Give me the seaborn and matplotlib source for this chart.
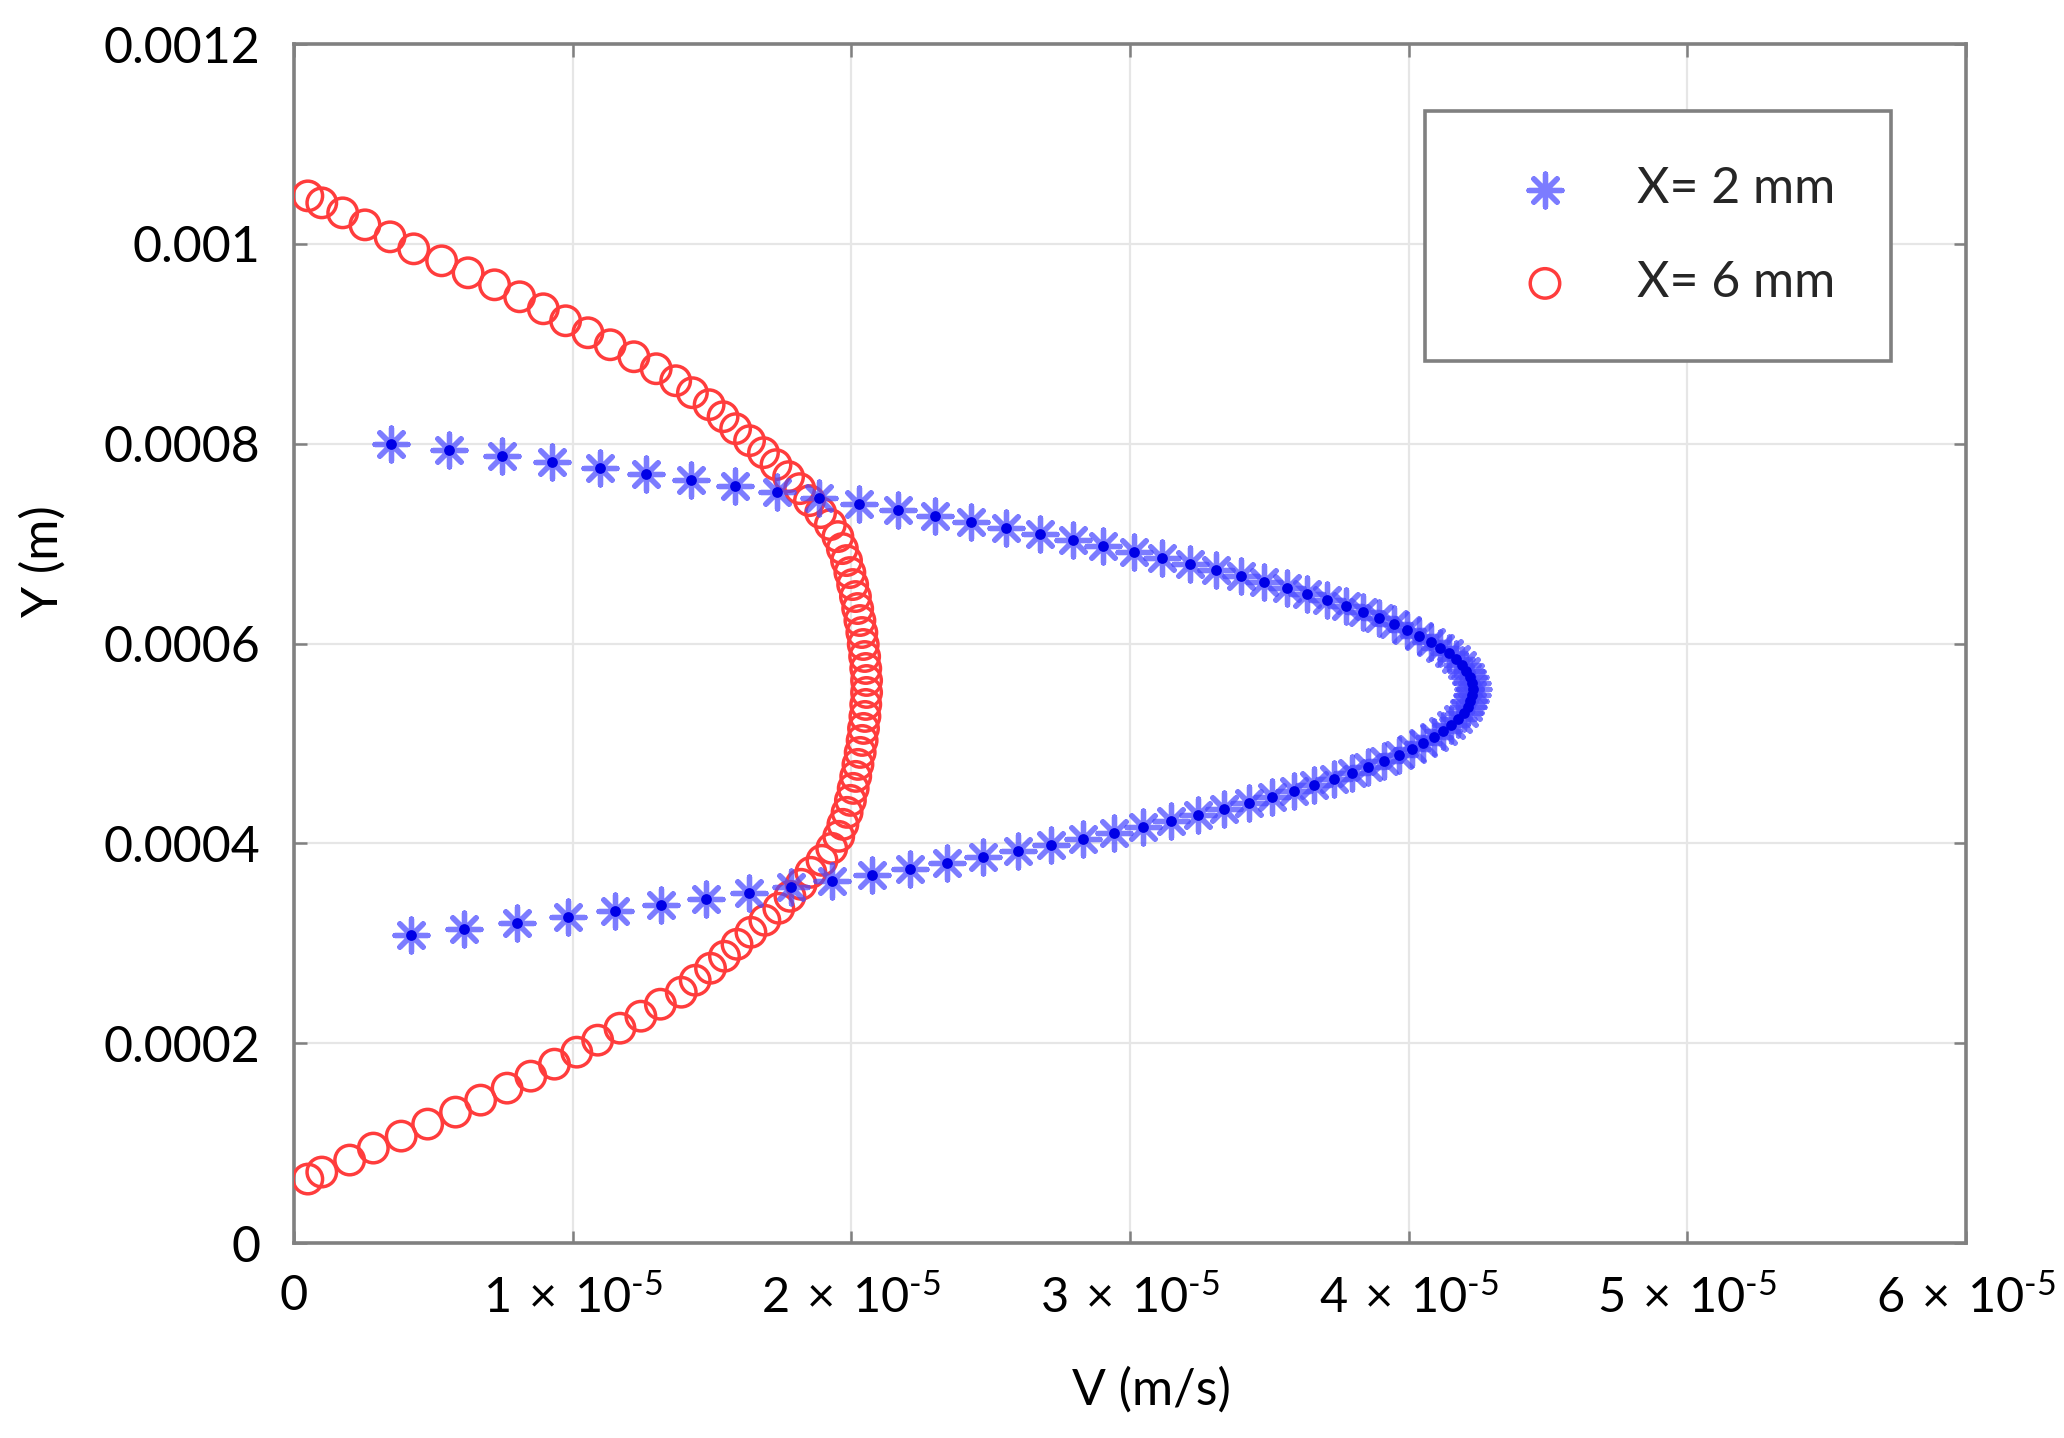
import matplotlib
matplotlib.use("Agg")
import matplotlib.pyplot as plt
import pandas as pd
import seaborn as sns


# X = 2 mm : wall-normal position (micrometres) and velocity (x 1e-5 m/s)
y_2mm_um = [
    308, 314, 320, 326, 332, 338, 344, 350, 356, 362, 368, 374, 380, 386,
    392, 398, 404, 410, 416, 422, 428, 434, 440, 446, 452, 458, 464, 470,
    476, 482, 488, 494, 500, 506, 512, 518, 524, 530, 536, 542, 548, 554,
    560, 566, 572, 578, 584, 590, 596, 602, 608, 614, 620, 626, 632, 638,
    644, 650, 656, 662, 668, 674, 680, 686, 692, 698, 704, 710, 716, 722,
    728, 734, 740, 746, 752, 758, 764, 770, 776, 782, 788, 794, 800,
]
v_2mm = [
    0.420, 0.610, 0.800, 0.984, 1.153, 1.318, 1.478, 1.634, 1.785, 1.932,
    2.074, 2.211, 2.344, 2.473, 2.597, 2.716, 2.831, 2.942, 3.048, 3.149,
    3.246, 3.338, 3.426, 3.509, 3.587, 3.661, 3.731, 3.796, 3.856, 3.912,
    3.964, 4.011, 4.053, 4.091, 4.124, 4.153, 4.177, 4.197, 4.212, 4.222,
    4.228, 4.230, 4.227, 4.219, 4.207, 4.191, 4.169, 4.144, 4.114, 4.079,
    4.039, 3.996, 3.947, 3.894, 3.837, 3.775, 3.708, 3.637, 3.562, 3.481,
    3.397, 3.308, 3.214, 3.116, 3.013, 2.905, 2.794, 2.677, 2.556, 2.431,
    2.301, 2.166, 2.027, 1.883, 1.735, 1.582, 1.425, 1.263, 1.097, 0.926,
    0.745, 0.555, 0.350,
]

# X = 6 mm
y_6mm_um = [
    64, 71, 83, 95, 107, 119, 131, 143, 155, 167, 179, 191, 203, 215,
    227, 239, 251, 263, 275, 287, 299, 311, 323, 335, 347, 359, 371, 383,
    395, 407, 419, 431, 443, 455, 467, 479, 491, 503, 515, 527, 539, 551,
    563, 575, 587, 599, 611, 623, 635, 647, 659, 671, 683, 695, 707, 719,
    731, 743, 755, 767, 779, 791, 803, 815, 827, 839, 851, 863, 875, 887,
    899, 911, 923, 935, 947, 959, 971, 983, 995, 1007, 1019, 1031, 1041, 1048,
]
v_6mm = [
    0.05, 0.10, 0.20, 0.285, 0.385, 0.48, 0.58, 0.67, 0.765, 0.85,
    0.935, 1.015, 1.09, 1.17, 1.245, 1.315, 1.39, 1.44, 1.495, 1.545,
    1.59, 1.64, 1.69, 1.74, 1.78, 1.82, 1.855, 1.895, 1.93, 1.955,
    1.97, 1.985, 1.997, 2.007, 2.016, 2.024, 2.032, 2.039, 2.044, 2.049,
    2.052, 2.055, 2.055, 2.052, 2.048, 2.043, 2.038, 2.031, 2.023, 2.015,
    2.005, 1.995, 1.983, 1.968, 1.952, 1.925, 1.89, 1.85, 1.815, 1.775,
    1.73, 1.685, 1.635, 1.585, 1.54, 1.49, 1.43, 1.37, 1.30, 1.22,
    1.135, 1.055, 0.975, 0.895, 0.81, 0.72, 0.625, 0.53, 0.43, 0.345,
    0.255, 0.175, 0.10, 0.05,
]

series_labels = ["X= 2 mm", "X= 6 mm"]

x_ticks = [0, 1e-5, 2e-5, 3e-5, 4e-5, 5e-5, 6e-5]
x_tick_labels = [
    "0",
    r"$1\,\times\,10^{\text{-5}}$",
    r"$2\,\times\,10^{\text{-5}}$",
    r"$3\,\times\,10^{\text{-5}}$",
    r"$4\,\times\,10^{\text{-5}}$",
    r"$5\,\times\,10^{\text{-5}}$",
    r"$6\,\times\,10^{\text{-5}}$",
]
y_ticks = [0, 0.0002, 0.0004, 0.0006, 0.0008, 0.001, 0.0012]
y_tick_labels = ["0", "0.0002", "0.0004", "0.0006", "0.0008", "0.001", "0.0012"]

df_2mm = pd.DataFrame({
    "V": [v * 1e-5 for v in v_2mm],
    "Y": [y * 1e-6 for y in y_2mm_um],
})
df_6mm = pd.DataFrame({
    "V": [v * 1e-5 for v in v_6mm],
    "Y": [y * 1e-6 for y in y_6mm_um],
})

sns.set_theme(style="ticks")
plt.rcParams["font.family"] = ["Lato", "DejaVu Sans"]
plt.rcParams["mathtext.fontset"] = "custom"
plt.rcParams["mathtext.rm"] = "Lato"
plt.rcParams["mathtext.default"] = "rm"
plt.rcParams["mathtext.fallback"] = "stixsans"

fig = plt.figure(figsize=(20.64, 14.38), dpi=100)
ax = fig.add_axes([0.1424, 0.1356, 0.8101, 0.8338])

# red open circles first, blue asterisks on top
sns.scatterplot(
    data=df_6mm, x="V", y="Y", ax=ax, marker="o", s=450,
    facecolor="none", edgecolor="#ff3c3c", linewidth=2.5,
    label=series_labels[1], zorder=3,
)
sns.scatterplot(
    data=df_2mm, x="V", y="Y", ax=ax, marker=(8, 2, 0), s=560,
    color="#4a4aff", linewidth=3.8, alpha=0.72,
    label=series_labels[0], zorder=4,
)
sns.scatterplot(
    data=df_2mm, x="V", y="Y", ax=ax, marker="o", s=60,
    color="#0000e6", linewidth=0, zorder=5,
)

ax.set_xlim(0, 6e-5)
ax.set_ylim(0, 0.0012)
ax.set_xticks(x_ticks, labels=x_tick_labels)
ax.set_yticks(y_ticks, labels=y_tick_labels)

ax.grid(True, color="#e6e6e6", linewidth=1.6)
ax.set_axisbelow(True)
for side in ["left", "right", "top", "bottom"]:
    ax.spines[side].set_visible(True)
    ax.spines[side].set_color("#808080")
    ax.spines[side].set_linewidth(2.6)

ax.tick_params(axis="both", which="both", direction="in", top=True, right=True,
               length=9, width=1.8, color="#808080", labelsize=36,
               labelcolor="black")
ax.tick_params(axis="x", pad=22, labelsize=35)
ax.tick_params(axis="y", pad=24)

ax.set_xlabel("V (m/s)", fontsize=36, color="black")
ax.set_ylabel("Y (m)", fontsize=36, color="black")
ax.xaxis.label.set_va("center")
ax.yaxis.label.set_va("center")
ax.xaxis.set_label_coords(0.5126, -0.1226)
ax.yaxis.set_label_coords(-0.150, 0.569)

handles, labels = ax.get_legend_handles_labels()
order = [labels.index(name) for name in series_labels]
leg = ax.legend(
    [handles[i] for i in order], [labels[i] for i in order],
    loc="upper right", bbox_to_anchor=(0.955, 0.9441), borderaxespad=0,
    fontsize=36, frameon=True, fancybox=False, framealpha=1,
    borderpad=1.1, handlelength=2.6, handletextpad=0.55, labelspacing=0.95,
)
leg.get_frame().set_edgecolor("#808080")
leg.get_frame().set_linewidth(2.6)

fig.savefig("out.png", dpi=100)
